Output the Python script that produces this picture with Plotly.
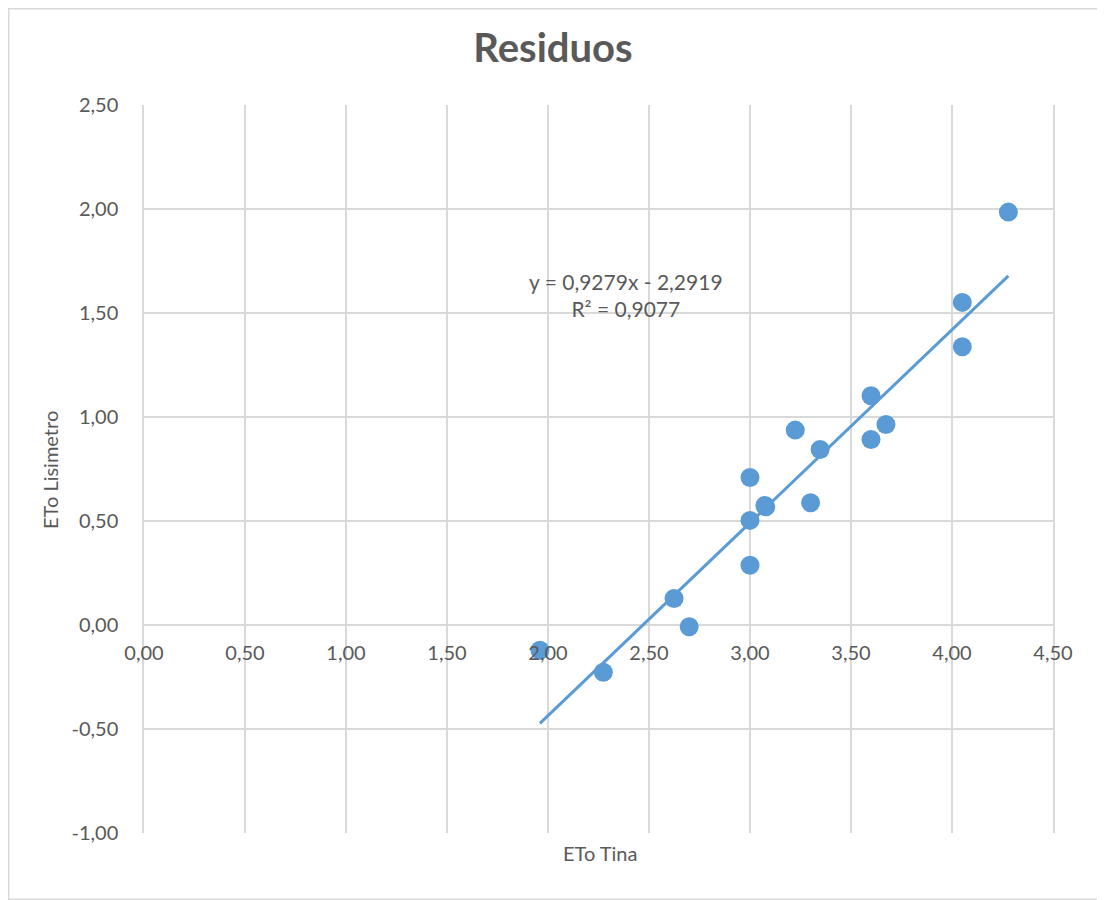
import plotly.graph_objects as go

# Data
eto_tina = [1.96, 2.274, 2.624, 2.699, 3.0, 3.0, 3.0, 3.074, 3.078, 3.224,
            3.30, 3.347, 3.599, 3.599, 3.673, 4.051, 4.051, 4.279]
eto_lisimetro = [-0.121, -0.227, 0.127, -0.008, 0.287, 0.503, 0.709, 0.575, 0.568, 0.937,
                 0.588, 0.844, 1.102, 0.892, 0.964, 1.551, 1.338, 1.985]
slope = 0.9279
intercept = -2.2919
r2 = 0.9077

x_ticks = [0, 0.5, 1.0, 1.5, 2.0, 2.5, 3.0, 3.5, 4.0, 4.5]
y_ticks = [-1.0, -0.5, 0.0, 0.5, 1.0, 1.5, 2.0, 2.5]


def fmt(v):
    return f"{v:.2f}".replace(".", ",")


BLUE = "#5B9BD5"
GRID = "#D9D9D9"
TXT = "#595959"
FONT = "Lato"

x_min, x_max = min(eto_tina), max(eto_tina)
trend_x = [x_min, x_max]
trend_y = [slope * v + intercept for v in trend_x]

fig = go.Figure()
fig.add_trace(go.Scatter(x=trend_x, y=trend_y, mode="lines",
                         line=dict(color=BLUE, width=3), hoverinfo="skip"))
fig.add_trace(go.Scatter(x=eto_tina, y=eto_lisimetro, mode="markers",
                         marker=dict(color=BLUE, size=19, line=dict(width=0))))

ymin, ymax = y_ticks[0], y_ticks[-1]
zero_pos = (0 - ymin) / (ymax - ymin)

W, H = 1097, 892
L, R, T, B = 136, 52, 97, 67
pw, ph = W - L - R, H - T - B

fig.update_layout(
    width=W, height=H,
    margin=dict(l=L, r=R, t=T, b=B),
    paper_bgcolor="white", plot_bgcolor="white",
    showlegend=False,
    title=dict(text="<b>Residuos</b>", x=(553 - 8) / W, xref="container", xanchor="center",
               y=1 - 40 / H, yref="container", yanchor="middle",
               font=dict(family=FONT, size=40, color=TXT)),
    xaxis=dict(range=[x_ticks[0], x_ticks[-1]], tickvals=x_ticks,
               ticktext=[fmt(v) for v in x_ticks],
               showgrid=True, gridcolor=GRID, gridwidth=1.5,
               zeroline=True, zerolinecolor=GRID, zerolinewidth=1.5,
               showline=False, ticks="", anchor="free", position=zero_pos,
               ticklabelstandoff=14,
               tickfont=dict(family=FONT, size=20, color=TXT)),
    yaxis=dict(range=[ymin, ymax], tickvals=y_ticks,
               ticktext=[fmt(v) for v in y_ticks],
               showgrid=True, gridcolor=GRID, gridwidth=1.5,
               zeroline=True, zerolinecolor=GRID, zerolinewidth=1.5,
               showline=True, linecolor=GRID, linewidth=1.5, mirror=True,
               ticks="", ticklabelstandoff=20,
               tickfont=dict(family=FONT, size=20, color=TXT)),
)

fig.add_shape(type="rect", xref="paper", yref="paper",
              x0=-(L - 0.75) / pw, x1=(W - 0.75 - L) / pw,
              y0=-(B - 0.75) / ph, y1=(H - 0.75 - B) / ph,
              line=dict(color=GRID, width=1.5), layer="below")

fig.add_annotation(x=2.386, y=1.588, xref="x", yref="y",
                   text=f"y = {str(slope).replace('.', ',')}x - {str(-intercept).replace('.', ',')}<br>R² = {str(r2).replace('.', ',')}",
                   showarrow=False, align="center",
                   font=dict(family=FONT, size=21, color=TXT))
fig.add_annotation(x=(600 - 144) / pw, y=-(853 - 833) / ph, xref="paper", yref="paper",
                   text="ETo Tina", showarrow=False, yanchor="middle", xanchor="center",
                   font=dict(family=FONT, size=20, color=TXT))
fig.add_annotation(x=-(144 - 50) / pw, y=(833 - 470) / ph, xref="paper", yref="paper",
                   text="ETo Lisimetro", showarrow=False, textangle=-90,
                   xanchor="center", yanchor="middle",
                   font=dict(family=FONT, size=20, color=TXT))

fig.write_html("out.html")
